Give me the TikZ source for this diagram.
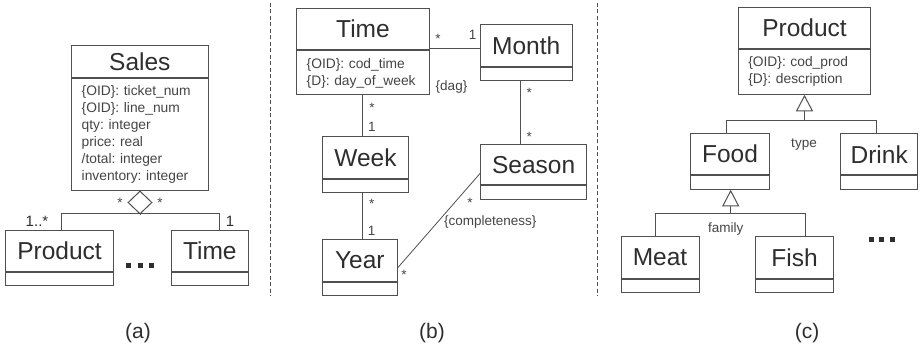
\documentclass[tikz,border=0pt]{standalone}
\usepackage{fontspec}
\setmainfont{Liberation Sans}
\usetikzlibrary{shapes.geometric,arrows.meta,calc}
\definecolor{lc}{HTML}{505050}
\definecolor{tc}{HTML}{2E2E2E}
\definecolor{ac}{HTML}{454545}
\frenchspacing
\newcommand\umlcls[8]{%
  \pgfmathsetlengthmacro\clsw{(#3-#2)*1pt}%
  \pgfmathsetlengthmacro\clstw{(#3-#2-20)*1pt}%
  \pgfmathsetlengthmacro\clsha{(#5-#4)*1pt}%
  \pgfmathsetlengthmacro\clshb{(#6-#5)*1pt}%
  \node[ttl, minimum width=\clsw, minimum height=\clsha] (#1) at ({(#2+#3)/2},{(#4+#5)/2}) {#7};
  \node[att, minimum width=\clsw, minimum height=\clshb, text width=\clstw, anchor=north] (#1-a) at (#1.south) {#8};
}
\begin{document}
\begin{tikzpicture}[x=1pt,y=-1pt,
  ttl/.style={draw=lc, line width=1pt, fill=white, inner sep=0pt, font=\fontsize{24.5}{28}\selectfont, text=tc},
  att/.style={draw=lc, line width=1pt, fill=white, inner xsep=10pt, inner ysep=0pt, align=left, font=\fontsize{13.8}{16.9}\selectfont\frenchspacing, text=ac},
  ln/.style={draw=lc, line width=1pt},
  gen/.style={ln, -{Triangle[open, length=16.5pt, width=17pt, line width=1pt]}},
  lbl/.style={inner sep=0pt, font=\fontsize{13.5}{15}\selectfont, text=ac},
  stl/.style={lbl, yshift=-3pt},
  sepline/.style={draw=lc, line width=1pt, dash pattern=on 4pt off 2.5pt},
  capt/.style={inner sep=0pt, font=\fontsize{21}{24}\selectfont, text=tc},
  sqdot/.style={fill=tc, minimum size=5pt, inner sep=0pt},
]
\useasboundingbox[fill=white] (0,0) rectangle (922,344);

% separators
\draw[sepline] (270,3) -- (270,296);
\draw[sepline] (597,3) -- (597,296);

% ---------------- (a)
\umlcls{sales}{71.7}{208}{46}{77.3}{189.3}{Sales}{\{OID\}: ticket\_num\\\{OID\}: line\_num\\qty: integer\\price: real\\/total: integer\\inventory: integer}
\umlcls{prodA}{5.7}{113.3}{230.7}{271.7}{284.5}{Product}{}
\umlcls{timeA}{171.7}{248}{230.7}{271.7}{284.5}{Time}{}
\node[diamond, draw=lc, line width=1pt, fill=white, minimum width=24pt, minimum height=23pt, inner sep=0pt] (dia) at (140,202.5) {};
\coordinate (pa) at (61,214);
\coordinate (ta) at (219,214);
\draw[ln] (pa |- prodA.north) -- (pa) -- (ta) -- (ta |- timeA.north);
\draw[ln] (dia.south) -- (dia.south |- pa);
\node[stl] (sa1) at (120,200) {*};
\node[stl] (sa2) at (160,200) {*};
\node[lbl, text=tc, font=\fontsize{15}{16}\selectfont] (ma1) at (37,221.5) {1..*};
\node[lbl, text=tc, font=\fontsize{15}{16}\selectfont] (ma2) at (230,221.5) {1};
\node[sqdot] (da1) at (128.5,265.5) {};
\node[sqdot] (da2) at (140,265.5) {};
\node[sqdot] (da3) at (151.5,265.5) {};

% ---------------- (b)
\umlcls{timeB}{296.7}{429.3}{8.3}{50}{94}{Time}{\{OID\}: cod\_time\\\{D\}: day\_of\_week}
\umlcls{month}{480}{572.3}{24.3}{66.7}{79.3}{Month}{}
\umlcls{week}{322.7}{408.3}{136.7}{179}{191.7}{Week}{}
\umlcls{year}{322.3}{397.3}{239.3}{281.7}{295}{Year}{}
\umlcls{season}{480.7}{586.7}{144.3}{185}{198.5}{Season}{}
\coordinate (tm) at (0,48.3);
\coordinate (tw) at (362.3,0);
\coordinate (ms) at (520,0);
\draw[ln] (tm -| timeB.east) -- (tm -| month.west);
\draw[ln] (tw |- timeB-a.south) -- (tw |- week.north);
\draw[ln] (tw |- week-a.south) -- (tw |- year.north);
\draw[ln] (ms |- month-a.south) -- (ms |- season.north);
\draw[line width=0.8pt, draw=lc] ($(year.east)+(0,7.2)$) -- ($(season.west)+(0,8.6)$);
\node[stl] (sb1) at (438,36) {*};
\node[lbl] (mb1) at (472.7,35) {1};
\node[lbl] (dag) at (451.5,87.3) {\{dag\}};
\node[stl] (sb2) at (372,105) {*};
\node[lbl] (mb2) at (372,127.3) {1};
\node[stl] (sb3) at (371.7,200.7) {*};
\node[lbl] (mb3) at (371.7,230.7) {1};
\node[stl] (sb4) at (529.3,90) {*};
\node[stl] (sb5) at (529.3,134.3) {*};
\node[stl] (sb6) at (404,271.7) {*};
\node[stl] (sb7) at (470,200) {*};
\node[lbl] (compl) at (490.3,221.7) {\{completeness\}};

% ---------------- (c)
\umlcls{prodC}{738.3}{870.7}{7.3}{48.3}{93.3}{Product}{\{OID\}: cod\_prod\\\{D\}: description}
\umlcls{food}{690.7}{769.3}{134}{174.3}{188.3}{Food}{}
\umlcls{drink}{840.7}{917.7}{134}{174.3}{188.3}{Drink}{}
\umlcls{meat}{621}{699}{236.7}{278.3}{291.7}{Meat}{}
\umlcls{fish}{755.7}{833.3}{236.7}{278.3}{291.7}{Fish}{}
\coordinate (gj1) at (804.5,120.7);
\coordinate (gl1) at (726.7,120.7);
\coordinate (gr1) at (876.7,120.7);
\draw[ln] (gl1 |- food.north) -- (gl1) -- (gr1) -- (gr1 |- drink.north);
\draw[gen] (gj1) -- (gj1 |- prodC-a.south);
\coordinate (gj2) at (730.7,214);
\coordinate (gl2) at (655.7,214);
\coordinate (gr2) at (805.7,214);
\draw[ln] (gl2 |- meat.north) -- (gl2) -- (gr2) -- (gr2 |- fish.north);
\draw[gen] (gj2) -- (gj2 |- food-a.south);
\node[lbl] (typ) at (804,145) {type};
\node[lbl] (fam) at (725.7,229) {family};
\node[sqdot] (dc1) at (871,240) {};
\node[sqdot] (dc2) at (881.5,240) {};
\node[sqdot] (dc3) at (892,240) {};

% captions
\node[capt] (capa) at (138,333) {(a)};
\node[capt] (capb) at (432,333) {(b)};
\node[capt] (capc) at (807,333) {(c)};
\end{tikzpicture}
\end{document}
